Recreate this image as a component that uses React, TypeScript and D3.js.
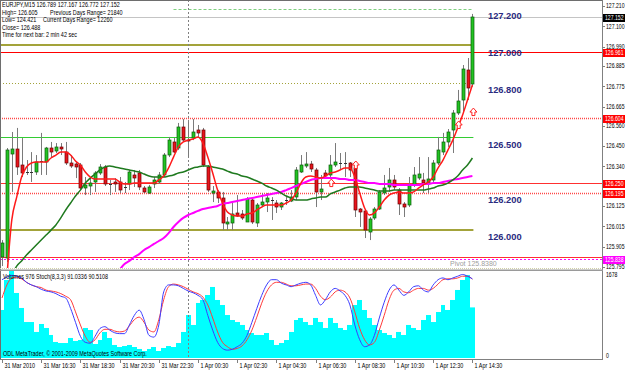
import React from "react";
import * as d3 from "d3";

const symbolTitle = "EURJPY,M15";
const lastOHLC = [126.789, 127.167, 126.772, 127.152];
const infoLines = ["High= 126.605", "Low= 124.421", "Close= 126.488", "Time for next bar: 2 min 42 sec"];
const infoRight = ["Previous Days Range= 21840", "Current Days Range= 12260"];

const opens = [125.849,125.844,126.408,126.435,126.348,126.310,126.310,126.310,126.370,126.364,126.440,126.424,126.446,126.418,126.359,126.353,126.348,126.223,126.234,126.256,126.305,126.337,126.245,126.256,126.256,126.229,126.245,126.294,126.305,126.223,126.196,126.245,126.256,126.294,126.402,126.473,126.440,126.554,126.483,126.494,126.538,126.538,126.337,126.196,126.202,126.169,126.028,126.033,126.088,126.082,126.039,126.158,126.033,126.131,126.147,126.158,126.142,126.120,126.158,126.153,126.174,126.310,126.343,126.353,126.321,126.202,126.305,126.294,126.348,126.359,126.359,126.359,126.332,126.109,126.099,125.985,126.061,126.109,126.196,126.229,126.267,126.212,126.137,126.131,126.240,126.277,126.267,126.245,126.267,126.359,126.418,126.473,126.538,126.630,126.700,126.863,126.789];
const highs = [125.941,126.440,126.527,126.549,126.494,126.375,126.418,126.402,126.522,126.446,126.473,126.467,126.467,126.473,126.402,126.364,126.359,126.283,126.277,126.315,126.353,126.348,126.267,126.277,126.283,126.256,126.321,126.321,126.321,126.234,126.240,126.283,126.310,126.413,126.500,126.494,126.576,126.597,126.581,126.597,126.565,126.549,126.348,126.234,126.212,126.202,126.066,126.142,126.185,126.104,126.174,126.169,126.142,126.196,126.196,126.174,126.158,126.147,126.174,126.212,126.337,126.402,126.418,126.370,126.332,126.294,126.321,126.402,126.467,126.413,126.418,126.364,126.337,126.115,126.104,126.066,126.120,126.212,126.294,126.332,126.294,126.223,126.147,126.283,126.337,126.391,126.305,126.391,126.375,126.500,126.522,126.543,126.646,126.755,126.890,126.928,127.167];
const lows = [125.800,125.822,126.202,126.294,126.283,126.294,126.256,126.294,126.294,126.294,126.391,126.413,126.402,126.348,126.332,126.277,126.218,126.185,126.185,126.202,126.294,126.234,126.185,126.202,126.196,126.196,126.212,126.229,126.212,126.196,126.191,126.223,126.245,126.283,126.391,126.413,126.429,126.473,126.391,126.483,126.494,126.337,126.202,126.147,126.142,125.995,125.995,125.995,126.066,126.050,126.039,126.028,126.012,126.120,126.093,126.050,126.088,126.104,126.131,126.147,126.158,126.305,126.332,126.310,126.120,126.158,126.277,126.283,126.337,126.321,126.283,126.283,126.066,126.012,125.952,125.941,126.050,126.104,126.185,126.202,126.212,126.077,126.066,126.120,126.229,126.267,126.196,126.196,126.256,126.348,126.402,126.446,126.413,126.619,126.635,126.700,126.772];
const closes = [125.925,126.429,126.435,126.337,126.305,126.309,126.311,126.364,126.369,126.440,126.418,126.446,126.435,126.359,126.343,126.337,126.223,126.240,126.250,126.305,126.337,126.245,126.244,126.245,126.212,126.228,126.310,126.277,126.229,126.202,126.229,126.267,126.294,126.402,126.483,126.418,126.554,126.483,126.478,126.527,126.522,126.348,126.212,126.207,126.169,126.033,126.039,126.082,126.071,126.061,126.164,126.039,126.131,126.147,126.169,126.157,126.120,126.142,126.159,126.174,126.321,126.348,126.353,126.326,126.202,126.218,126.288,126.348,126.364,126.358,126.360,126.321,126.104,126.093,125.995,126.055,126.109,126.202,126.223,126.267,126.229,126.137,126.120,126.240,126.294,126.299,126.250,126.272,126.359,126.429,126.473,126.527,126.630,126.695,126.868,126.765,127.152];

const maFast = [null,125.740,126.050,126.174,126.283,126.337,126.359,126.364,126.364,126.364,126.386,126.402,126.418,126.418,126.402,126.370,126.348,126.310,126.283,126.272,126.272,126.272,126.272,126.272,126.256,126.245,126.245,126.250,126.250,126.250,126.250,126.250,126.267,126.288,126.332,126.391,126.446,126.473,126.483,126.489,126.500,126.467,126.391,126.305,126.212,126.142,126.093,126.077,126.071,126.071,126.082,126.088,126.104,126.120,126.131,126.131,126.131,126.131,126.142,126.158,126.196,126.250,126.283,126.288,126.283,126.277,126.288,126.305,126.310,126.321,126.332,126.332,126.283,126.196,126.115,126.077,126.088,126.120,126.158,126.185,126.196,126.202,126.196,126.196,126.202,126.223,126.240,126.256,126.283,126.332,126.375,126.429,126.483,126.549,126.619,126.700,126.782];
const maMid = [null,null,125.750,125.800,125.828,125.860,125.887,125.914,125.941,125.968,125.995,126.023,126.061,126.104,126.142,126.180,126.212,126.250,126.277,126.299,126.321,126.337,126.343,126.337,126.332,126.326,126.321,126.315,126.310,126.299,126.288,126.283,126.283,126.283,126.288,126.294,126.305,126.310,126.321,126.332,126.337,126.343,126.343,126.337,126.332,126.326,126.315,126.305,126.299,126.288,126.283,126.272,126.261,126.250,126.234,126.223,126.212,126.196,126.180,126.169,126.158,126.158,126.158,126.164,126.169,126.174,126.174,126.191,126.202,126.212,126.223,126.229,126.229,126.229,126.223,126.218,126.212,126.207,126.207,126.207,126.212,126.212,126.212,126.212,126.212,126.212,126.212,126.218,126.223,126.234,126.240,126.250,126.267,126.288,126.321,126.348,126.386];
const maSlow = [null,null,null,null,null,null,null,null,null,null,null,null,null,null,null,null,null,null,null,null,null,null,null,null,125.780,125.811,125.828,125.849,125.865,125.887,125.903,125.920,125.936,125.952,125.979,126.012,126.039,126.061,126.077,126.088,126.099,126.109,126.115,126.120,126.126,126.137,126.142,126.147,126.153,126.158,126.164,126.169,126.174,126.180,126.185,126.191,126.196,126.202,126.212,126.223,126.234,126.245,126.256,126.267,126.272,126.277,126.277,126.277,126.277,126.272,126.272,126.267,126.267,126.261,126.256,126.250,126.250,126.245,126.245,126.245,126.240,126.240,126.240,126.240,126.240,126.240,126.245,126.245,126.250,126.250,126.256,126.261,126.267,126.272,126.277,126.283,126.288];

const volumes = [926,1505,1678,1254,965,694,694,502,656,579,444,309,289,289,386,328,347,579,540,270,347,502,386,251,212,231,251,212,174,135,174,212,135,193,231,212,289,502,829,637,1061,1119,1215,1370,1119,1022,829,733,694,637,540,482,444,444,482,347,251,289,347,502,733,772,694,637,772,694,579,772,675,579,540,637,1022,1119,926,772,637,540,482,444,386,502,444,637,579,540,733,829,694,887,1022,926,1119,1312,1505,1601,976];
const stochMain = [90,93,95,94,92,87,84,82,79,77,76,74,71,69,57,41,25,18,17,25,34,36,32,29,28,28,38,49,55,44,26,24,38,76,84,84,83,80,77,75,72,67,49,32,18,11,9,10,13,17,26,41,57,72,84,90,90,86,84,82,84,86,87,84,72,61,67,76,80,77,72,61,38,21,13,15,26,46,64,78,84,78,72,76,82,83,78,76,84,90,92,90,92,94,96,94,91.0336];
const stochSignal = [69,84,92,93,91,87,84,82,81,78,77,76,74,71,67,53,38,25,18,21,29,33,33,31,30,31,37,44,47,41,32,30,44,67,82,85,84,82,79,76,74,70,61,46,30,18,13,10,11,14,21,32,47,63,76,84,87,87,85,83,83,84,85,85,80,71,67,70,76,78,76,69,53,34,21,15,18,32,49,67,78,80,76,75,78,80,80,78,80,85,90,91,91,92,94,94,90.5108];

const timeLabels = ["31 Mar 2010","31 Mar 16:30","31 Mar 18:30","31 Mar 20:30","31 Mar 22:30","1 Apr 00:30","1 Apr 02:30","1 Apr 04:30","1 Apr 06:30","1 Apr 08:30","1 Apr 10:30","1 Apr 12:30","1 Apr 14:30"];
const timeLabelBars = [0,8,16,24,32,40,48,56,64,72,80,88,96];
const priceTicks = [127.21,127.1,126.99,126.885,126.775,126.665,126.56,126.45,126.34,126.235,126.125,126.015,125.905,125.795];
const roundLevels = [127.2,127.0,126.8,126.5,126.2,126.0];
const hLinePrices = [127.192,127.152,126.997,126.961,126.791,126.604,126.498,126.25,126.195,125.995,125.85,125.838];
const boxPrices = [127.152,126.961,126.604,126.25,126.195,125.838];
const arrowBars = [67,72,93,96];
const arrowPrices = [126.25,126.348,126.565,126.635];
const separatorBar = 38;
const pivotValue = 125.838;
const volumeMax = 1678;
const stochParams = "8,3,3";

const OLIVE = "#a3a33a";
const hLineStyles = [
  { color: "#7fd07f", dash: "3,2", w: 1, full: false, fromBar: 35 },
  { color: "#c4c4c4", dash: undefined, w: 1, full: true, fromBar: 0 },
  { color: OLIVE, dash: undefined, w: 2, full: false, fromBar: 0 },
  { color: "#ff0000", dash: undefined, w: 1, full: true, fromBar: 0 },
  { color: OLIVE, dash: "1,2", w: 1, full: false, fromBar: 0 },
  { color: "#ff4848", dash: "1,1", w: 1.5, full: true, fromBar: 0 },
  { color: "#33cc33", dash: undefined, w: 1, full: false, fromBar: 0 },
  { color: "#ff3030", dash: undefined, w: 1, full: true, fromBar: 0 },
  { color: "#ff4848", dash: "1,1", w: 1.5, full: true, fromBar: 0 },
  { color: OLIVE, dash: undefined, w: 2, full: false, fromBar: 0 },
  { color: "#ff3030", dash: undefined, w: 1, full: true, fromBar: 0 },
  { color: "#ff00ff", dash: "2,2", w: 1, full: true, fromBar: 0 },
];
const boxColors = ["#000000", "#ff0000", "#ff0000", "#ff0000", "#ff0000", "#ff00ff"];

const FONT = "'Liberation Sans', Arial, sans-serif";

function ST({ x, y, children, fill = "#000", size = 7, sx = 0.78, weight = "normal" }: any) {
  return (
    <text transform={`translate(${x},${y}) scale(${sx},1)`} fontFamily={FONT} fontSize={size} fill={fill} fontWeight={weight}>
      {children}
    </text>
  );
}

export default function App() {
  const W = 625, H = 370;
  const axisX = 602;
  const x = d3.scaleLinear().domain([0, 96]).range([2, 472.4]);
  const y = d3.scaleLinear().domain([125.795, 127.21]).range([267, 6]);
  const yv = d3.scaleLinear().domain([0, volumeMax]).range([358, 271]);
  const ys = d3.scaleLinear().domain([0, 100]).range([358, 271]);
  const f3 = d3.format(".3f");
  const lineEnd = x(96) + 1;

  const maLine = d3
    .line<number | null>()
    .defined((d) => d != null)
    .x((_, i) => x(i))
    .y((d) => y(d as number))
    .curve(d3.curveMonotoneX);
  const stLine = d3
    .line<number>()
    .x((_, i) => x(i))
    .y((d) => ys(d))
    .curve(d3.curveMonotoneX);

  return (
    <svg width={W} height={H} style={{ position: "absolute", left: 0, top: 0, display: "block" }} xmlns="http://www.w3.org/2000/svg">
      <defs>
        <clipPath id="pricePanel">
          <rect x={1} y={1} width={axisX - 1} height={267} />
        </clipPath>
        <clipPath id="indPanel">
          <rect x={1} y={271} width={axisX - 1} height={88} />
        </clipPath>
      </defs>
      <rect x={0} y={0} width={W} height={H} fill="#ffffff" />

      {/* price panel */}
      <g clipPath="url(#pricePanel)">
        {hLinePrices.map((p, k) => {
          const s = hLineStyles[k];
          const yy = Math.round(y(p)) + (s.w === 2 ? 0 : 0.5);
          return (
            <line key={"h" + k} x1={s.fromBar ? x(s.fromBar) : 0} x2={s.full ? axisX : lineEnd} y1={yy} y2={yy}
              stroke={s.color} strokeWidth={s.w} strokeDasharray={s.dash} />
          );
        })}
        <line x1={Math.round(x(separatorBar)) + 0.5} x2={Math.round(x(separatorBar)) + 0.5} y1={0} y2={270}
          stroke="#808080" strokeDasharray="2,2" />
        {opens.map((o, i) => {
          const c = closes[i];
          const cx = Math.round(x(i));
          const bull = c >= o;
          const top = Math.round(y(Math.max(o, c)));
          const bot = Math.round(y(Math.min(o, c)));
          const doji = Math.abs(o - c) < 0.0035;
          return (
            <g key={"c" + i}>
              <line x1={cx + 0.5} x2={cx + 0.5} y1={y(highs[i])} y2={y(lows[i])} stroke="#7a7a7a" strokeWidth={1} />
              {doji ? (
                <line x1={cx - 1} x2={cx + 2} y1={top + 0.5} y2={top + 0.5} stroke="#333" strokeWidth={1} />
              ) : (
                <rect x={cx - 1} y={top} width={3} height={Math.max(1, bot - top)}
                  fill={bull ? "#22c322" : "#e8141c"} stroke={bull ? "#0b5a0b" : "#6b0000"} strokeWidth={0.7} />
              )}
            </g>
          );
        })}
        <path d={maLine(maSlow) || ""} fill="none" stroke="#ff00ff" strokeWidth={2} />
        <path d={maLine(maMid) || ""} fill="none" stroke="#1f7a1f" strokeWidth={1.5} />
        <path d={maLine(maFast) || ""} fill="none" stroke="#ff1a1a" strokeWidth={1.5} />
        {arrowBars.map((b, k) => {
          const ax = x(b) + 1;
          const ay = y(arrowPrices[k]);
          return (
            <path key={"a" + k} transform={`translate(${ax},${ay})`}
              d="M0,-4 L3.5,0 L1.5,0 L1.5,3.5 L-1.5,3.5 L-1.5,0 L-3.5,0 Z"
              fill="#ffffff" stroke="#ff2020" strokeWidth={1} />
          );
        })}
        {roundLevels.map((lv) => (
          <text key={"lv" + lv} x={488} y={y(lv) + 11} fontFamily={FONT} fontWeight="bold" fontSize={9.3} fill="#2a2a80">
            {f3(lv)}
          </text>
        ))}
        <text x={450} y={265.5} fontFamily={FONT} fontSize={7} fill="#a0a0a0">{`Pivot  ${pivotValue.toFixed(4)}`}</text>
      </g>

      {/* info text */}
      <ST x={2} y={6.5}>{`${symbolTitle}  ${lastOHLC.map((v) => f3(v)).join(" ")}`}</ST>
      {infoLines.map((t, k) => (
        <ST key={"il" + k} x={2} y={15 + k * 7.3}>{t}</ST>
      ))}
      <ST x={50} y={15}>{infoRight[0]}</ST>
      <ST x={43} y={22.3}>{infoRight[1]}</ST>

      {/* indicator panel */}
      <g clipPath="url(#indPanel)">
        {volumes.map((v, i) => {
          const x0 = Math.round(x(i) - 2.45);
          const x1 = Math.round(x(i) + 2.45);
          return <rect key={"v" + i} x={x0} y={yv(v)} width={x1 - x0} height={358 - yv(v)} fill="#00ffff" />;
        })}
        <line x1={Math.round(x(separatorBar)) + 0.5} x2={Math.round(x(separatorBar)) + 0.5} y1={271} y2={359}
          stroke="#808080" strokeDasharray="2,2" />
        <path d={stLine(stochSignal) || ""} fill="none" stroke="#ff3b3b" strokeWidth={1} />
        <path d={stLine(stochMain) || ""} fill="none" stroke="#3d3dff" strokeWidth={1} />
      </g>
      <ST x={3} y={279}>{`Volumes ${volumes[volumes.length - 1]}  Stoch(${stochParams}) ${stochMain[stochMain.length - 1].toFixed(4)} ${stochSignal[stochSignal.length - 1].toFixed(4)}`}</ST>
      <ST x={3} y={355.5}>ODL MetaTrader, © 2001-2009 MetaQuotes Software Corp.</ST>

      {/* frame */}
      <line x1={0.5} x2={0.5} y1={0} y2={360} stroke="#6e6e6e" />
      <line x1={0} x2={axisX} y1={0.5} y2={0.5} stroke="#6e6e6e" />
      <line x1={axisX + 0.5} x2={axisX + 0.5} y1={0} y2={360} stroke="#808080" />
      <line x1={0} x2={axisX + 1} y1={359.5} y2={359.5} stroke="#808080" />
      <line x1={0} x2={axisX} y1={268.5} y2={268.5} stroke="#d0d0a8" strokeDasharray="1,1" />
      <rect x={0} y={269.5} width={axisX + 1} height={1.5} fill="#9a9a9a" />

      {/* right price axis */}
      {priceTicks.map((t) => (
        <g key={"pt" + t}>
          <line x1={axisX} x2={axisX + 3} y1={Math.round(y(t)) + 0.5} y2={Math.round(y(t)) + 0.5} stroke="#808080" />
          <ST x={606} y={y(t) + 2.3} size={6.6}>{f3(t)}</ST>
        </g>
      ))}
      {boxPrices.map((p, k) => (
        <g key={"bx" + k}>
          <rect x={603} y={Math.round(y(p)) - 3} width={22} height={8} fill={boxColors[k]} />
          <ST x={605} y={Math.round(y(p)) + 3.3} fill="#ffffff" size={6.6}>{f3(p)}</ST>
        </g>
      ))}
      <ST x={606} y={276.5} size={6.6}>{String(volumeMax)}</ST>
      <ST x={606} y={357.5} size={6.6}>0</ST>

      {/* time axis */}
      {timeLabelBars.map((b, k) => {
        const tx = Math.round(x(b)) + 0.5;
        return (
          <g key={"t" + k}>
            <line x1={tx} x2={tx} y1={359} y2={363} stroke="#808080" />
            <ST x={tx + 2} y={368}>{timeLabels[k]}</ST>
          </g>
        );
      })}
    </svg>
  );
}
